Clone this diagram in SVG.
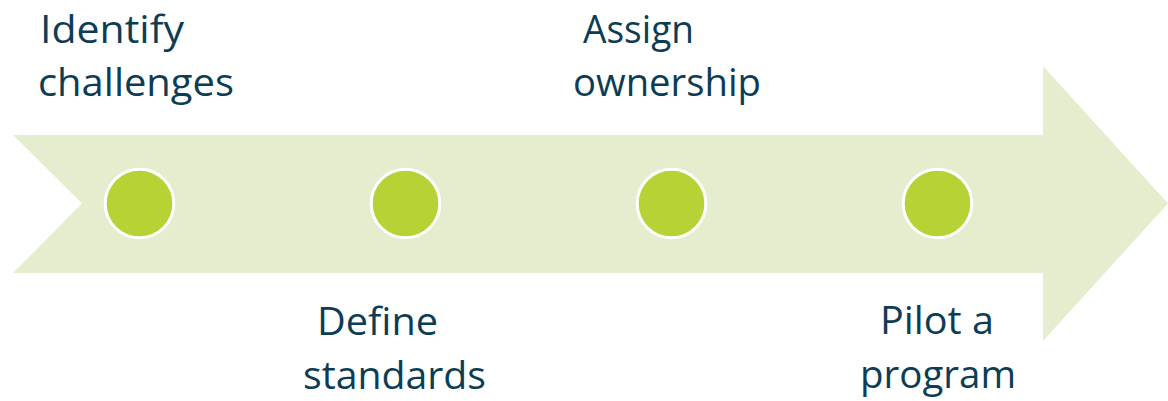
<svg xmlns="http://www.w3.org/2000/svg" width="1168" height="401" viewBox="0 0 1168 401">
<style>
.lbl{font-family:"Open Sans","Liberation Sans",sans-serif;font-size:39px;fill:#0c3d55}
.dot{fill:#b5d334;stroke:#ffffff;stroke-width:3}
</style>
<rect width="1168" height="401" fill="#ffffff"/>
<g id="connectors">
<polygon id="arrow" points="13,135 1043,135 1043,66 1168,203.5 1043,341 1043,273 13,273 82,203.5" fill="#e4eecf"/>
</g>
<g id="node1"><circle class="dot" cx="139.5" cy="203.5" r="34.3"/>
<text class="lbl" x="40" y="43" textLength="144" lengthAdjust="spacingAndGlyphs">Identify</text>
<text class="lbl" x="38" y="96" textLength="196" lengthAdjust="spacingAndGlyphs">challenges</text></g>
<g id="node2"><circle class="dot" cx="405.5" cy="203.5" r="34.3"/>
<text class="lbl" x="317" y="335" textLength="121" lengthAdjust="spacingAndGlyphs">Define</text>
<text class="lbl" x="303" y="389" textLength="183" lengthAdjust="spacingAndGlyphs">standards</text></g>
<g id="node3"><circle class="dot" cx="671.5" cy="203.5" r="34.3"/>
<text class="lbl" x="583" y="43" textLength="111" lengthAdjust="spacingAndGlyphs">Assign</text>
<text class="lbl" x="573" y="96" textLength="188" lengthAdjust="spacingAndGlyphs">ownership</text></g>
<g id="node4"><circle class="dot" cx="937.5" cy="203.5" r="34.3"/>
<text class="lbl" x="880" y="334" textLength="114" lengthAdjust="spacingAndGlyphs">Pilot a</text>
<text class="lbl" x="860" y="388" textLength="156" lengthAdjust="spacingAndGlyphs">program</text></g>
</svg>
